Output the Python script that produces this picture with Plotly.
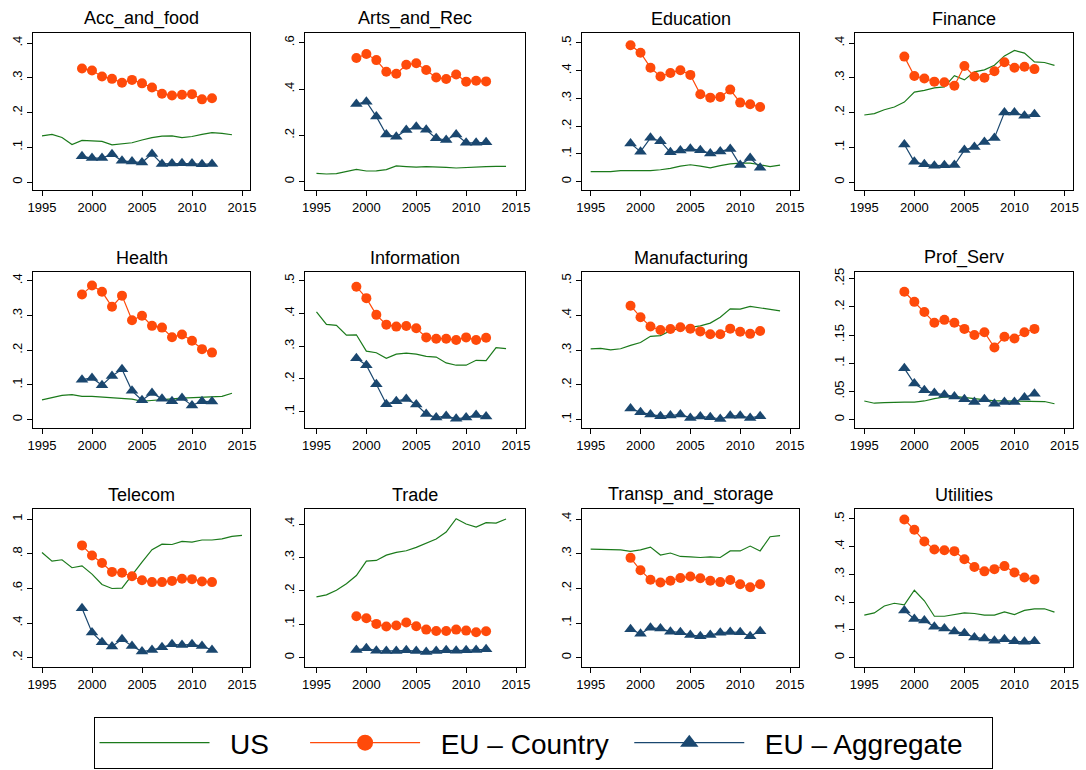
import plotly.graph_objects as go

# ---------------- data ----------------
years_us = list(range(1995, 2015))
years_us_telecom = list(range(1995, 2016))
years_eu = list(range(1999, 2013))
x_ticks = [1995, 2000, 2005, 2010, 2015]

sectors = ["Acc_and_food", "Arts_and_Rec", "Education", "Finance",
           "Health", "Information", "Manufacturing", "Prof_Serv",
           "Telecom", "Trade", "Transp_and_storage", "Utilities"]

series_names = ["US", "EU \u2013 Country", "EU \u2013 Aggregate"]

acc_us = [0.133, 0.137, 0.128, 0.108, 0.120, 0.119, 0.117, 0.107, 0.109, 0.113,
          0.121, 0.128, 0.132, 0.133, 0.128, 0.131, 0.137, 0.142, 0.140, 0.136]
acc_country = [0.327, 0.321, 0.304, 0.297, 0.286, 0.294, 0.284, 0.272, 0.254, 0.249,
               0.251, 0.253, 0.238, 0.241]
acc_agg = [0.074, 0.069, 0.069, 0.080, 0.061, 0.059, 0.056, 0.081, 0.052, 0.053,
           0.054, 0.053, 0.051, 0.052]

arts_us = [0.036, 0.033, 0.035, 0.043, 0.053, 0.046, 0.047, 0.052, 0.068, 0.065,
           0.063, 0.065, 0.065, 0.062, 0.059, 0.062, 0.063, 0.065, 0.066, 0.066]
arts_country = [0.534, 0.551, 0.525, 0.475, 0.466, 0.505, 0.511, 0.482, 0.450, 0.443,
                0.463, 0.432, 0.436, 0.433]
arts_agg = [0.335, 0.345, 0.281, 0.204, 0.194, 0.223, 0.237, 0.224, 0.187, 0.180,
            0.204, 0.168, 0.168, 0.170]

edu_us = [0.036, 0.035, 0.036, 0.040, 0.040, 0.040, 0.040, 0.043, 0.048, 0.056,
          0.061, 0.056, 0.050, 0.058, 0.064, 0.067, 0.067, 0.061, 0.054, 0.060]
edu_country = [0.492, 0.465, 0.411, 0.379, 0.392, 0.402, 0.385, 0.315, 0.303, 0.305,
               0.332, 0.285, 0.279, 0.269]
edu_agg = [0.138, 0.108, 0.158, 0.146, 0.106, 0.112, 0.119, 0.113, 0.102, 0.109,
           0.118, 0.060, 0.085, 0.050]

fin_us = [0.193, 0.197, 0.208, 0.216, 0.230, 0.259, 0.264, 0.271, 0.274, 0.306,
          0.294, 0.317, 0.323, 0.336, 0.363, 0.379, 0.371, 0.346, 0.344, 0.336]
fin_country = [0.361, 0.305, 0.298, 0.289, 0.287, 0.277, 0.334, 0.304, 0.300, 0.319,
               0.345, 0.329, 0.332, 0.325]
fin_agg = [0.108, 0.058, 0.051, 0.047, 0.048, 0.049, 0.092, 0.101, 0.115, 0.127,
           0.200, 0.200, 0.191, 0.195]

health_us = [0.057, 0.064, 0.070, 0.072, 0.067, 0.067, 0.065, 0.062, 0.062, 0.059,
             0.053, 0.056, 0.057, 0.060, 0.062, 0.063, 0.063, 0.064, 0.067, 0.076]
health_country = [0.360, 0.386, 0.368, 0.325, 0.357, 0.286, 0.299, 0.270, 0.265, 0.237,
                  0.245, 0.227, 0.203, 0.193]
health_agg = [0.115, 0.120, 0.099, 0.126, 0.145, 0.083, 0.056, 0.077, 0.060, 0.053,
              0.062, 0.041, 0.053, 0.052]

info_us = [0.405, 0.367, 0.364, 0.334, 0.335, 0.285, 0.280, 0.263, 0.276, 0.279,
           0.276, 0.269, 0.267, 0.249, 0.242, 0.242, 0.257, 0.256, 0.296, 0.293]
info_country = [0.482, 0.447, 0.396, 0.366, 0.360, 0.362, 0.355, 0.327, 0.323, 0.323,
                0.319, 0.327, 0.319, 0.326]
info_agg = [0.263, 0.242, 0.184, 0.123, 0.132, 0.139, 0.122, 0.093, 0.082, 0.087,
            0.078, 0.082, 0.090, 0.085]

manu_us = [0.304, 0.305, 0.301, 0.304, 0.314, 0.322, 0.340, 0.342, 0.356, 0.363,
           0.366, 0.370, 0.378, 0.395, 0.419, 0.418, 0.426, 0.422, 0.416, 0.413]
manu_country = [0.428, 0.395, 0.368, 0.358, 0.361, 0.366, 0.362, 0.354, 0.346, 0.346,
                0.362, 0.353, 0.347, 0.355]
manu_agg = [0.132, 0.121, 0.115, 0.110, 0.112, 0.115, 0.105, 0.109, 0.107, 0.102,
            0.111, 0.111, 0.105, 0.110]

prof_us = [0.033, 0.029, 0.030, 0.031, 0.031, 0.031, 0.033, 0.037, 0.040, 0.041,
           0.039, 0.037, 0.034, 0.033, 0.033, 0.033, 0.033, 0.033, 0.032, 0.028]
prof_country = [0.227, 0.209, 0.191, 0.172, 0.177, 0.172, 0.161, 0.150, 0.155, 0.128,
                0.147, 0.144, 0.155, 0.161]
prof_agg = [0.091, 0.064, 0.052, 0.047, 0.044, 0.041, 0.036, 0.031, 0.036, 0.028,
            0.031, 0.031, 0.039, 0.046]

tele_us = [0.807, 0.757, 0.765, 0.719, 0.730, 0.682, 0.622, 0.599, 0.601, 0.678,
           0.751, 0.823, 0.855, 0.853, 0.871, 0.867, 0.879, 0.879, 0.886, 0.900, 0.906]
tele_country = [0.848, 0.790, 0.746, 0.695, 0.690, 0.670, 0.647, 0.636, 0.636, 0.643,
                0.655, 0.653, 0.640, 0.636]
tele_agg = [0.485, 0.345, 0.289, 0.264, 0.306, 0.267, 0.235, 0.244, 0.260, 0.277,
            0.273, 0.277, 0.267, 0.244]

trade_us = [0.182, 0.188, 0.202, 0.221, 0.246, 0.289, 0.291, 0.307, 0.315, 0.320,
            0.330, 0.343, 0.355, 0.376, 0.416, 0.400, 0.391, 0.404, 0.403, 0.415]
trade_country = [0.124, 0.118, 0.101, 0.093, 0.096, 0.105, 0.094, 0.084, 0.080, 0.080,
                 0.084, 0.081, 0.076, 0.079]
trade_agg = [0.023, 0.028, 0.021, 0.020, 0.020, 0.022, 0.020, 0.017, 0.020, 0.022,
             0.021, 0.022, 0.023, 0.025]

transp_us = [0.313, 0.313, 0.313, 0.311, 0.307, 0.311, 0.319, 0.296, 0.302, 0.292,
             0.291, 0.289, 0.291, 0.289, 0.308, 0.308, 0.322, 0.308, 0.349, 0.352]
transp_country = [0.288, 0.252, 0.225, 0.217, 0.222, 0.230, 0.234, 0.229, 0.222, 0.218,
                  0.224, 0.212, 0.203, 0.212]
transp_agg = [0.082, 0.069, 0.086, 0.084, 0.075, 0.073, 0.065, 0.062, 0.065, 0.072,
              0.074, 0.073, 0.062, 0.076]

util_us = [0.153, 0.161, 0.186, 0.196, 0.190, 0.243, 0.205, 0.149, 0.149, 0.154,
           0.161, 0.159, 0.153, 0.153, 0.165, 0.155, 0.170, 0.176, 0.176, 0.164]
util_country = [0.498, 0.461, 0.419, 0.390, 0.387, 0.384, 0.355, 0.327, 0.311, 0.319,
                0.330, 0.307, 0.289, 0.282]
util_agg = [0.170, 0.139, 0.134, 0.111, 0.105, 0.094, 0.088, 0.072, 0.069, 0.061,
            0.066, 0.059, 0.057, 0.059]

us_series = [acc_us, arts_us, edu_us, fin_us, health_us, info_us, manu_us, prof_us,
             tele_us, trade_us, transp_us, util_us]
country_series = [acc_country, arts_country, edu_country, fin_country, health_country,
                  info_country, manu_country, prof_country, tele_country, trade_country,
                  transp_country, util_country]
agg_series = [acc_agg, arts_agg, edu_agg, fin_agg, health_agg, info_agg, manu_agg,
              prof_agg, tele_agg, trade_agg, transp_agg, util_agg]

# y tick values per panel
y_tickvals = [
    [0, 0.1, 0.2, 0.3, 0.4],
    [0, 0.2, 0.4, 0.6],
    [0, 0.1, 0.2, 0.3, 0.4, 0.5],
    [0, 0.1, 0.2, 0.3, 0.4],
    [0, 0.1, 0.2, 0.3, 0.4],
    [0.1, 0.2, 0.3, 0.4, 0.5],
    [0.1, 0.2, 0.3, 0.4, 0.5],
    [0, 0.05, 0.1, 0.15, 0.2, 0.25],
    [0.2, 0.4, 0.6, 0.8, 1.0],
    [0, 0.1, 0.2, 0.3, 0.4],
    [0, 0.1, 0.2, 0.3, 0.4],
    [0, 0.1, 0.2, 0.3, 0.4, 0.5],
]

# ---------------- layout config ----------------
y_ranges = [
    [-0.023, 0.429], [-0.036, 0.642], [-0.030, 0.536], [-0.023, 0.429],
    [-0.024, 0.425], [0.050, 0.527], [0.076, 0.525], [-0.015, 0.262],
    [0.146, 1.058], [-0.028, 0.445], [-0.027, 0.429], [-0.034, 0.536],
]
x_ranges = [[1994.1, 2015.8], [1993.85, 2015.9], [1994.13, 2015.9], [1994.07, 2015.85]]

W, H = 1086, 770
col_px = [(33, 250), (305, 525), (582, 799), (855, 1073)]
row_px = [(33, 190), (272, 428), (509, 667)]

GREEN = "#1b7a1b"
ORANGE = "#ff4a0a"
NAVY = "#1a476f"
FONT = "Liberation Sans, Arial, sans-serif"
NB = "\u00a0"


def fmt(v):
    s = ("%g" % v)
    if s.startswith("0."):
        s = s[1:]
    return s


fig = go.Figure()
layout_axes = {}
annotations = []

for i, name in enumerate(sectors):
    r, c = divmod(i, 4)
    n = i + 1
    xa = "x" if n == 1 else "x%d" % n
    ya = "y" if n == 1 else "y%d" % n
    xs_us = years_us_telecom if name == "Telecom" else years_us
    fig.add_trace(go.Scatter(x=xs_us, y=us_series[i], mode="lines",
                             line=dict(color=GREEN, width=1.2), name=series_names[0],
                             showlegend=False, xaxis=xa, yaxis=ya))
    fig.add_trace(go.Scatter(x=years_eu, y=country_series[i], mode="lines+markers",
                             line=dict(color=ORANGE, width=1.2),
                             marker=dict(symbol="circle", size=10, color=ORANGE),
                             name=series_names[1], showlegend=False,
                             xaxis=xa, yaxis=ya))
    fig.add_trace(go.Scatter(x=years_eu, y=agg_series[i], mode="lines+markers",
                             line=dict(color=NAVY, width=1.2),
                             marker=dict(symbol="triangle-up", size=11, color=NAVY),
                             name=series_names[2], showlegend=False,
                             xaxis=xa, yaxis=ya))

    x0, x1 = col_px[c]
    y0, y1 = row_px[r]
    xkey = "xaxis" if n == 1 else "xaxis%d" % n
    ykey = "yaxis" if n == 1 else "yaxis%d" % n
    layout_axes[xkey] = dict(
        domain=[x0 / W, x1 / W], range=x_ranges[c], anchor=ya,
        tickvals=x_ticks, ticktext=[str(t) for t in x_ticks],
        ticks="outside", ticklen=5, tickcolor="black", tickwidth=1,
        showline=True, linecolor="black", linewidth=1, mirror=True,
        showgrid=False, zeroline=False,
        tickfont=dict(family=FONT, size=13, color="black"))
    layout_axes[ykey] = dict(
        domain=[1 - y1 / H, 1 - y0 / H], range=y_ranges[i], anchor=xa,
        tickvals=y_tickvals[i], ticktext=[fmt(v) for v in y_tickvals[i]],
        tickangle=-90,
        ticks="outside", ticklen=5, tickcolor="black", tickwidth=1,
        showline=True, linecolor="black", linewidth=1, mirror=True,
        showgrid=False, zeroline=False,
        tickfont=dict(family=FONT, size=13, color="black"))
    annotations.append(dict(
        text=name, xref="%s domain" % xa, yref="%s domain" % ya,
        x=0.5, y=1, xanchor="center", yanchor="bottom", yshift=2,
        showarrow=False, font=dict(family=FONT, size=18, color="black")))

# legend-only entries (no data), with larger key symbols as in the original
fig.add_trace(go.Scatter(x=[None], y=[None], mode="lines",
                         line=dict(color=GREEN, width=1.2),
                         name=NB * 2 + series_names[0] + NB * 4))
fig.add_trace(go.Scatter(x=[None], y=[None], mode="lines+markers",
                         line=dict(color=ORANGE, width=1.2),
                         marker=dict(symbol="circle", size=16, color=ORANGE),
                         name=NB * 2 + series_names[1] + NB * 2))
fig.add_trace(go.Scatter(x=[None], y=[None], mode="lines+markers",
                         line=dict(color=NAVY, width=1.2),
                         marker=dict(symbol="triangle-up", size=16, color=NAVY),
                         name=NB * 2 + series_names[2] + NB * 3))

fig.update_layout(
    width=W, height=H,
    margin=dict(l=0, r=0, t=0, b=0, autoexpand=False),
    paper_bgcolor="white", plot_bgcolor="white",
    annotations=annotations,
    showlegend=True,
    legend=dict(orientation="h", x=0.5, xanchor="center", y=1 - 717 / H, yanchor="top",
                bordercolor="black", borderwidth=1, bgcolor="white",
                font=dict(family=FONT, size=28, color="black"),
                itemwidth=110, entrywidth=0, tracegroupgap=0, itemsizing="trace"),
    **layout_axes,
)

fig.write_html("out.html", config={"displayModeBar": False},
               post_script="document.body.style.margin='0';")
